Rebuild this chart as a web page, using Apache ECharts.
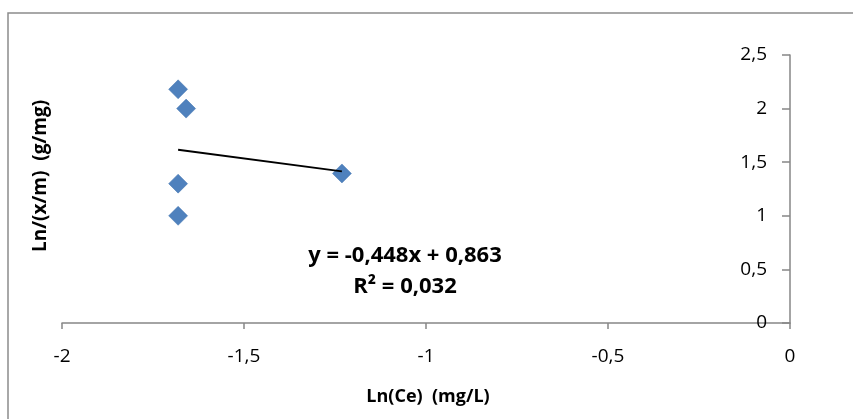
<!DOCTYPE html>
<html>
<head>
<meta charset="utf-8">
<script src="https://cdn.jsdelivr.net/npm/echarts@6/dist/echarts.min.js"></script>
<style>
html,body{margin:0;padding:0;background:#fff;}
#c{width:853px;height:419px;}
</style>
</head>
<body>
<div id="c"></div>
<script>
var xValues = [-1.681, -1.659, -1.681, -1.681, -1.231];
var yValues = [2.18, 2.00, 1.30, 1.00, 1.395];
var trendSlope = -0.448;
var trendIntercept = 0.863;
var xTicks = [-2, -1.5, -1, -0.5, 0];
var yTicks = [0, 0.5, 1, 1.5, 2, 2.5];
var equationText = 'y = -0,448x + 0,863';
var r2Text = 'R² = 0,032';
var xTitle = 'Ln(Ce)  (mg/L)';
var yTitle = 'Ln/(x/m)  (g/mg)';

var points = xValues.map(function(x, i){ return [x, yValues[i]]; });
var xmin = Math.min.apply(null, xValues), xmax = Math.max.apply(null, xValues);
var trend = [[xmin, trendSlope*xmin + trendIntercept],[xmax, trendSlope*xmax + trendIntercept]];
function fmt(v){ return String(v).replace('.', ','); }

var FONT = 'Open Sans';
var chart = echarts.init(document.getElementById('c'));
chart.setOption({
  animation: false,
  backgroundColor: '#fff',
  textStyle: {fontFamily: FONT},
  grid: {left: 62, right: 63, top: 55, bottom: 96},
  graphic: [
    {type:'rect', shape:{x:8, y:13, width:900, height:450}, style:{fill:'none', stroke:'#8c8c8c', lineWidth:1.5}, silent:true, z:-1},
    {type:'text', x:405, y:256, style:{text:equationText, fill:'#000', font:'bold 22px "Open Sans"', align:'center', verticalAlign:'middle'}},
    {type:'text', x:405, y:287, style:{text:r2Text, fill:'#000', font:'bold 22px "Open Sans"', align:'center', verticalAlign:'middle'}},
    {type:'text', x:428, y:397, style:{text:xTitle, fill:'#000', font:'bold 18px "Open Sans"', align:'center', verticalAlign:'middle'}},
    {type:'text', x:41, y:176, rotation:Math.PI/2, style:{text:yTitle, fill:'#000', font:'bold 19px "Open Sans"', align:'center', verticalAlign:'middle'}}
  ],
  xAxis: {
    type:'value', min:-2, max:0, interval:0.5,
    axisLine:{onZero:false, lineStyle:{color:'#868686', width:1.5}},
    axisTick:{show:true, length:6, lineStyle:{color:'#868686', width:1.5}},
    axisLabel:{color:'#000', fontSize:19, margin:24, formatter:function(v){return fmt(v);}},
    splitLine:{show:false}
  },
  yAxis: {
    type:'value', position:'right', min:0, max:2.5, interval:0.5,
    axisLine:{show:true, onZero:false, lineStyle:{color:'#868686', width:1.5}},
    axisTick:{show:true, inside:true, length:8, lineStyle:{color:'#868686', width:1.5}},
    axisLabel:{inside:true, color:'#000', fontSize:19, margin:23, formatter:function(v){return fmt(v);}},
    splitLine:{show:false}
  },
  series: [
    {type:'line', data:trend, symbol:'none', lineStyle:{color:'#000', width:2}, z:3},
    {type:'scatter', data:points, symbol:'diamond', symbolSize:[19,19], itemStyle:{color:'#4f81bd', opacity:1, borderColor:'#4677b0', borderWidth:0.5}, z:2}
  ]
});
</script>
</body>
</html>
